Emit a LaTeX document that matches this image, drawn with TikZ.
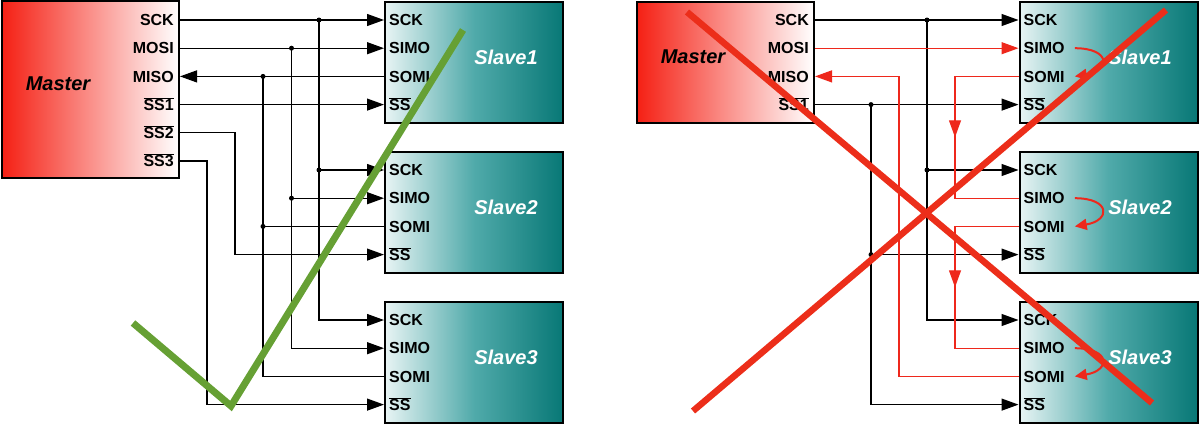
\documentclass[tikz,border=0pt]{standalone}
\usepackage{fontspec}
\setmainfont{Liberation Sans}
\usetikzlibrary{arrows.meta,positioning,decorations.markings}

\definecolor{mred}{RGB}{245,32,20}
\definecolor{sllight}{RGB}{232,244,244}
\definecolor{slmid}{RGB}{80,170,170}
\definecolor{sldark}{RGB}{8,120,118}
\definecolor{wred}{RGB}{238,40,28}
\definecolor{xred}{RGB}{236,46,26}
\definecolor{okgreen}{RGB}{102,160,52}

\newcommand{\ovl}[1]{$\overline{\mbox{#1}}$}

\begin{document}
\begin{tikzpicture}[x=1pt,y=-1pt,node distance=150pt,
    master/.style={draw,line width=2pt,minimum width=177pt,left color=mred,right color=white},
    slave/.style={draw,line width=2pt,minimum width=178pt,minimum height=121pt,left color=sllight,right color=sldark,middle color=slmid},
    title/.style={font=\fontsize{20}{24}\selectfont\bfseries\itshape},
    pin/.style={font=\fontsize{16}{19}\selectfont\bfseries,inner sep=2pt,text height=11.5pt,text depth=0pt},
    wire/.style={line width=1.2pt},
    sig/.style={wire,-{Triangle[length=17pt,width=12pt]}},
    rwire/.style={wire,wred},
    rsig/.style={rwire,-{Triangle[length=17pt,width=12pt]}},
    turn/.style={wred,line width=2pt,-{Triangle[length=12pt,width=11pt]}},
    midarr/.style={postaction={decorate},decoration={markings,mark=at position 0.5 with {\arrow{Triangle[length=17pt,width=12pt]}}}},
    dot/.style={circle,fill,inner sep=0pt,minimum size=5pt},
    cross/.style={xred,line width=6.5pt},
    tick/.style={okgreen,line width=7pt}]
    \useasboundingbox (0,0) rectangle (1200,424);

    \node[master,minimum height=177pt] (m) at (90.5,89.5) {};
    \node[title] (mt) at (58,84) {Master};
    \foreach \t/\n [count=\k from 0] in {SCK/mck,MOSI/mmo,MISO/mmi,\ovl{SS1}/ms1,\ovl{SS2}/ms2,\ovl{SS3}/ms3}
        \node[pin,anchor=east] (\n) at ([xshift=-4pt,yshift={-(20+28.2*\k)*1pt}]m.north east) {\t};

    \node[master,minimum height=121pt] (n) at (725.5,62.5) {};
    \node[title] (nt) at (693,57) {Master};
    \foreach \t/\n [count=\k from 0] in {SCK/nck,MOSI/nmo,MISO/nmi,\ovl{SS1}/ns1}
        \node[pin,anchor=east] (\n) at ([xshift=-4pt,yshift={-(19+28.2*\k)*1pt}]n.north east) {\t};

    \node[slave] (a1) at (474,62.5) {};
    \node[slave] (a2) [below of=a1] {};
    \node[slave] (a3) [below of=a2] {};
    \node[slave] (b1) at (1108.5,62.5) {};
    \node[slave] (b2) [below of=b1] {};
    \node[slave] (b3) [below of=b2] {};

    \foreach \p/\dx in {a/32,b/31.5}
    \foreach \i in {1,2,3} {
        \node[title,white] (\p t\i) at ([xshift=\dx pt,yshift=5.5pt]\p\i.center) {Slave\i};
        \foreach \t/\n [count=\k from 0] in {SCK/ck,SIMO/si,SOMI/so,\ovl{SS}/ss}
            \node[pin,anchor=west] (\p\n\i) at ([xshift=3pt,yshift={-(19+28.2*\k)*1pt}]\p\i.north west) {\t};
    }

    \coordinate (xck) at (319,0);
    \coordinate (xmo) at (291.5,0);
    \coordinate (xmi) at (263,0);
    \coordinate (xs2) at (235,0);
    \coordinate (xs3) at (207,0);

    \draw[sig] (m.east |- mck) -- (a1.west |- ack1);
    \draw[sig] (m.east |- mmo) -- (a1.west |- asi1);
    \draw[sig] (a1.west |- aso1) -- (m.east |- mmi);
    \draw[sig] (m.east |- ms1) -- (a1.west |- ass1);
    \draw[sig] (m.east |- ms2) -- (xs2 |- ms2) |- (a2.west |- ass2);
    \draw[sig] (m.east |- ms3) -- (xs3 |- ms3) |- (a3.west |- ass3);
    \draw[sig] (xck |- ack1) |- (a3.west |- ack3);
    \draw[sig] (xck |- ack2) -- (a2.west |- ack2);
    \draw[sig] (xmo |- asi1) |- (a3.west |- asi3);
    \draw[sig] (xmo |- asi2) -- (a2.west |- asi2);
    \draw[wire] (xmi |- aso1) |- (a3.west |- aso3);
    \draw[wire] (xmi |- aso2) -- (a2.west |- aso2);
    \foreach \b/\r in {ck/ck,mo/si,mi/so} {
        \node[dot] (d\b1) at (x\b |- a\r1) {};
        \node[dot] (d\b2) at (x\b |- a\r2) {};
    }

    \coordinate (yck) at (927,0);
    \coordinate (ys1) at (871,0);
    \coordinate (ymi) at (899,0);
    \coordinate (ydc) at (955,0);

    \draw[sig] (n.east |- nck) -- (b1.west |- bck1);
    \draw[sig] (yck |- bck1) |- (b3.west |- bck3);
    \draw[sig] (yck |- bck2) -- (b2.west |- bck2);
    \draw[sig] (n.east |- ns1) -- (b1.west |- bss1);
    \draw[sig] (ys1 |- bss1) |- (b3.west |- bss3);
    \draw[sig] (ys1 |- bss2) -- (b2.west |- bss2);
    \draw[rsig] (n.east |- nmo) -- (b1.west |- bsi1);
    \draw[rsig] (b3.west |- bso3) -| (ymi |- nmi) -- (n.east |- nmi);
    \draw[rwire,midarr] (b1.west |- bso1) -| (ydc |- bsi2) -- (b2.west |- bsi2);
    \draw[rwire,midarr] (b2.west |- bso2) -| (ydc |- bsi3) -- (b3.west |- bsi3);
    \foreach \i in {1,2,3}
        \draw[turn] ([xshift=8pt]bsi\i.east) .. controls +(36,0) and +(36,-6) .. ([xshift=8pt]bso\i.east);
    \node[dot] (e1) at (yck |- bck1) {};
    \node[dot] (e2) at (yck |- bck2) {};
    \node[dot] (e3) at (ys1 |- bss1) {};
    \node[dot] (e4) at (ys1 |- bss2) {};

    \draw[tick] (133,323) -- (231,406) -- (463,30);
    \draw[cross] (687,12) -- (1152,403);
    \draw[cross] (693,411) -- (1166,10);
\end{tikzpicture}
\end{document}
